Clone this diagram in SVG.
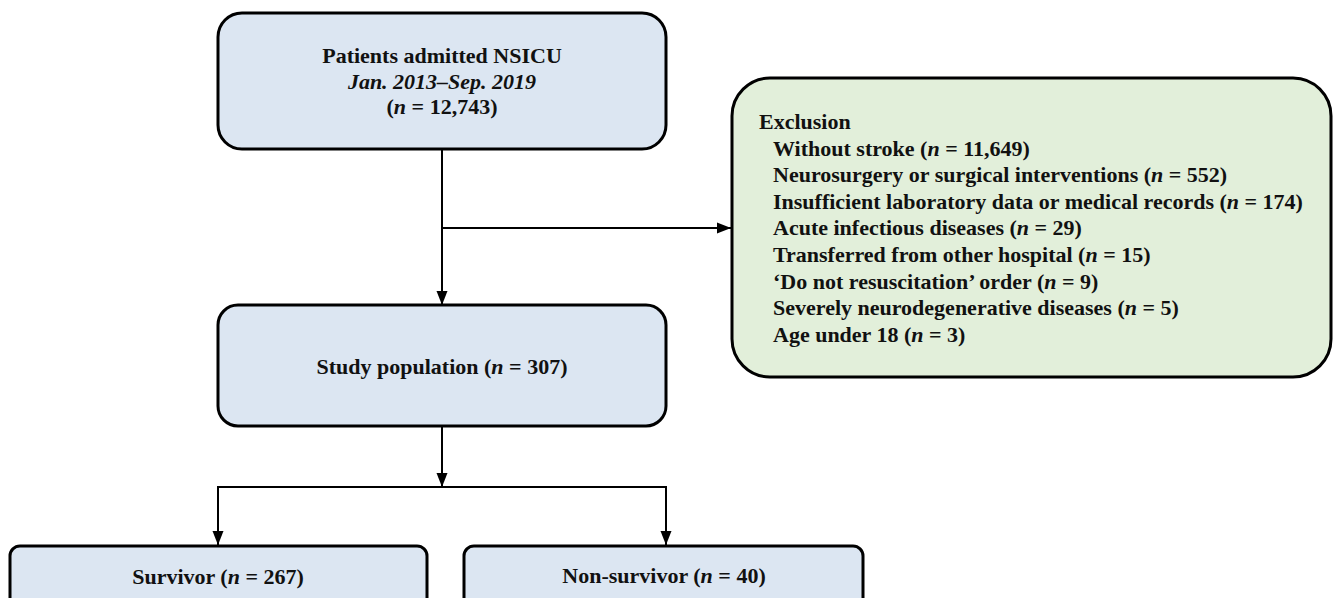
<svg xmlns="http://www.w3.org/2000/svg" width="1333" height="598" viewBox="0 0 1333 598">
<style>
.box{fill:#dce6f2;stroke:#000;stroke-width:3}
.gbox{fill:#e2efda;stroke:#000;stroke-width:3}
.t{font-family:"Liberation Serif","Times New Roman",serif;font-weight:bold;font-size:22px;fill:#111}
.c{text-anchor:middle}
.i{font-style:italic}
.ln{fill:none;stroke:#000;stroke-width:2}
</style>
<defs>
<marker id="arr" markerUnits="userSpaceOnUse" markerWidth="14" markerHeight="14" viewBox="0 0 14 14" refX="14" refY="7" orient="auto">
<path d="M0,1.5 L14,7 L0,12.5 Z" fill="#000"/>
</marker>
</defs>
<rect width="1333" height="598" fill="#fff"/>
<g id="connectors">
<line class="ln" x1="442" y1="149" x2="442" y2="305" marker-end="url(#arr)"/>
<line class="ln" x1="442" y1="228" x2="731" y2="228" marker-end="url(#arr)"/>
<line class="ln" x1="442" y1="426" x2="442" y2="487" marker-end="url(#arr)"/>
<polyline class="ln" points="218,545 218,487 666,487 666,545"/>
<line class="ln" x1="218" y1="500" x2="218" y2="545" marker-end="url(#arr)"/>
<line class="ln" x1="666" y1="500" x2="666" y2="545" marker-end="url(#arr)"/>
</g>
<g id="node-admitted">
<rect class="box" x="218" y="13" width="448" height="136" rx="24"/>
<text class="t c" x="442" y="63">Patients admitted NSICU</text>
<text class="t c i" x="442" y="89">Jan. 2013–Sep. 2019</text>
<text class="t c" x="442" y="114">(<tspan class="i">n</tspan> = 12,743)</text>
</g>
<g id="node-exclusion">
<rect class="gbox" x="732" y="78" width="599" height="299" rx="38"/>
<text class="t" x="759" y="129">Exclusion</text>
<text class="t" x="773" y="156">Without stroke (<tspan class="i">n</tspan> = 11,649)</text>
<text class="t" x="773" y="182">Neurosurgery or surgical interventions (<tspan class="i">n</tspan> = 552)</text>
<text class="t" x="773" y="209">Insufficient laboratory data or medical records (<tspan class="i">n</tspan> = 174)</text>
<text class="t" x="773" y="235">Acute infectious diseases (<tspan class="i">n</tspan> = 29)</text>
<text class="t" x="773" y="262">Transferred from other hospital (<tspan class="i">n</tspan> = 15)</text>
<text class="t" x="773" y="289">‘Do not resuscitation’ order (<tspan class="i">n</tspan> = 9)</text>
<text class="t" x="773" y="315">Severely neurodegenerative diseases (<tspan class="i">n</tspan> = 5)</text>
<text class="t" x="773" y="342">Age under 18 (<tspan class="i">n</tspan> = 3)</text>
</g>
<g id="node-study">
<rect class="box" x="218" y="305" width="448" height="121" rx="20"/>
<text class="t c" x="442" y="374">Study population (<tspan class="i">n</tspan> = 307)</text>
</g>
<g id="node-survivor">
<rect class="box" x="10" y="546" width="417" height="80" rx="10"/>
<text class="t c" x="218" y="584">Survivor (<tspan class="i">n</tspan> = 267)</text>
</g>
<g id="node-nonsurvivor">
<rect class="box" x="464" y="546" width="399" height="80" rx="10"/>
<text class="t c" x="664" y="583">Non-survivor (<tspan class="i">n</tspan> = 40)</text>
</g>
</svg>
